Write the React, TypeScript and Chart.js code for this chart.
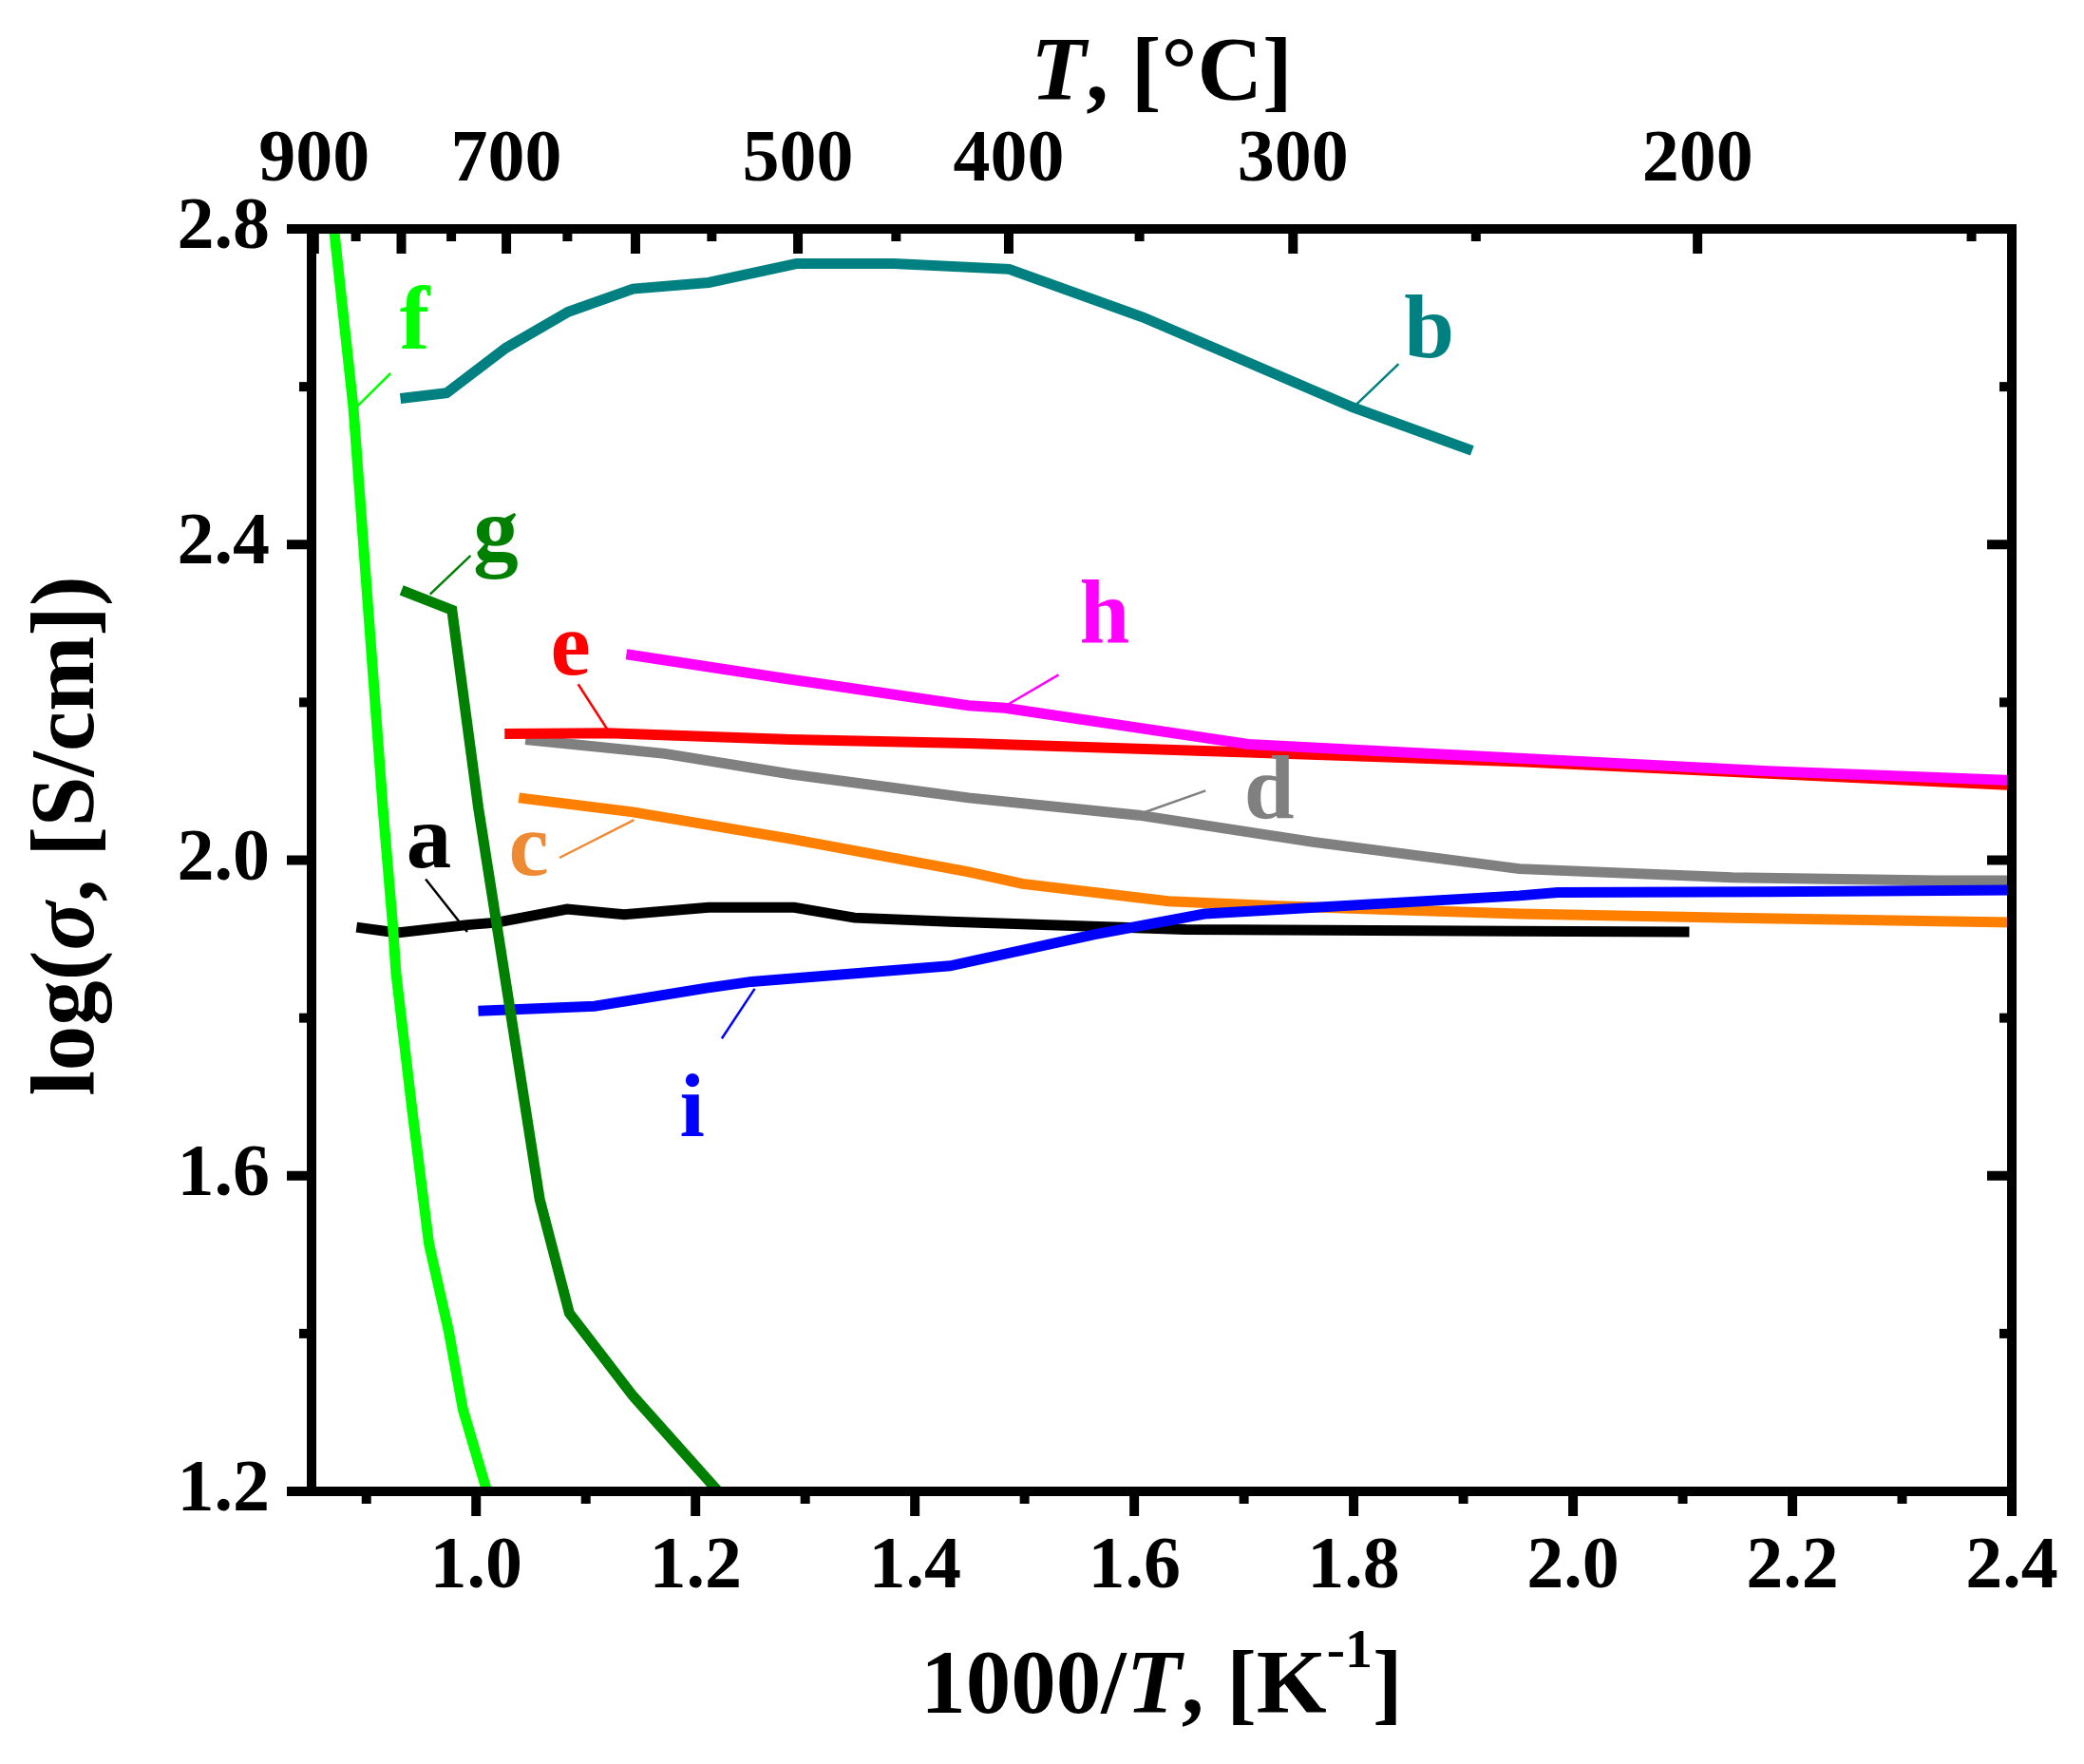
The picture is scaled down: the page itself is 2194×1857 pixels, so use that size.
import React, { useEffect, useRef } from "react";
import { Chart, registerables } from "chart.js";

Chart.register(...registerables);

// ---------- axes ----------
const X_MIN = 0.85;
const X_MAX = 2.4;
const Y_MIN = 1.2;
const Y_MAX = 2.8;
const X_TICKS = [1.0, 1.2, 1.4, 1.6, 1.8, 2.0, 2.2, 2.4];
const X_MINOR = [0.9, 1.1, 1.3, 1.5, 1.7, 1.9, 2.1, 2.3];
const Y_TICKS = [1.2, 1.6, 2.0, 2.4, 2.8];
const Y_MINOR = [1.4, 1.8, 2.2, 2.6];
const TOP_LABEL_TEMPS = [900, 700, 500, 400, 300, 200];
const TOP_MAJOR_TEMPS = [900, 800, 700, 600, 500, 400, 300, 200];
const TOP_MINOR_TEMPS = [850, 750, 650, 550, 450, 350, 250, 150];

// ---------- series (1000/T, log sigma) ----------
const A_X = [0.891, 0.928, 0.992, 1.019, 1.083, 1.135, 1.212, 1.29, 1.345, 1.432, 1.647, 1.946, 2.106];
const A_Y = [1.915, 1.908, 1.918, 1.921, 1.938, 1.931, 1.94, 1.94, 1.927, 1.922, 1.912, 1.91, 1.909];

const B_X = [0.931, 0.973, 1.027, 1.084, 1.143, 1.212, 1.292, 1.381, 1.486, 1.608, 1.799, 1.908];
const B_Y = [2.585, 2.592, 2.649, 2.695, 2.724, 2.732, 2.756, 2.756, 2.749, 2.688, 2.574, 2.519];

const C_X = [1.039, 1.143, 1.287, 1.449, 1.498, 1.631, 1.73, 1.951, 2.145, 2.4];
const C_Y = [2.079, 2.061, 2.027, 1.985, 1.97, 1.948, 1.942, 1.932, 1.927, 1.921];

const D_X = [1.045, 1.172, 1.287, 1.449, 1.604, 1.763, 1.951, 2.145, 2.331, 2.4];
const D_Y = [2.153, 2.135, 2.109, 2.079, 2.057, 2.023, 1.989, 1.978, 1.974, 1.974];

const E_X = [1.026, 1.12, 1.287, 1.449, 1.697, 1.951, 2.4];
const E_Y = [2.16, 2.161, 2.153, 2.148, 2.137, 2.125, 2.095];

const F_X = [0.866, 0.871, 0.888, 0.915, 0.924, 0.927, 0.942, 0.957, 0.975, 0.988, 1.011];
const F_Y = [2.85, 2.793, 2.575, 2.067, 1.918, 1.857, 1.68, 1.514, 1.403, 1.304, 1.195];

const G_X = [0.932, 0.978, 1.002, 1.027, 1.058, 1.085, 1.143, 1.222];
const G_Y = [2.342, 2.317, 2.067, 1.846, 1.57, 1.426, 1.321, 1.198];

const H_X = [1.137, 1.287, 1.449, 1.482, 1.704, 1.951, 2.178, 2.4];
const H_Y = [2.261, 2.229, 2.196, 2.193, 2.147, 2.129, 2.113, 2.101];

const I_X = [1.002, 1.108, 1.21, 1.251, 1.432, 1.564, 1.664, 1.951, 1.986, 2.178, 2.4];
const I_Y = [1.809, 1.815, 1.838, 1.846, 1.866, 1.906, 1.932, 1.955, 1.959, 1.96, 1.962];

// ---------- curve labels ----------
const LABEL_TEXT = ["a", "b", "c", "d", "e", "f", "g", "h", "i"];
const LABEL_X = [0.957, 1.869, 1.048, 1.723, 1.086, 0.944, 1.018, 1.573, 1.197];
const LABEL_Y = [1.991, 2.637, 1.981, 2.053, 2.235, 2.648, 2.38, 2.276, 1.65];
const LEAD_X1 = [0.954, 1.841, 1.076, 1.606, 1.093, 0.89, 0.958, 1.482, 1.224];
const LEAD_Y1 = [1.976, 2.629, 2.003, 2.059, 2.223, 2.573, 2.337, 2.195, 1.774];
const LEAD_X2 = [0.992, 1.799, 1.144, 1.665, 1.12, 0.922, 0.995, 1.531, 1.254];
const LEAD_Y2 = [1.909, 2.573, 2.051, 2.088, 2.165, 2.617, 2.386, 2.235, 1.837];
const LABEL_COLORS = ["#000000", "#008080", "#EE8A33", "#808080", "#FF0000", "#00FF00", "#008000", "#FF00FF", "#0000FF"];

const LINE_COLORS = ["#000000", "#008080", "#FF8000", "#808080", "#FF0000", "#00FF00", "#008000", "#FF00FF", "#0000FF"];
const DRAW_ORDER = [9, 8, 7, 6, 5, 2, 1, 4, 3];
const SERIES_X = [A_X, B_X, C_X, D_X, E_X, F_X, G_X, H_X, I_X];
const SERIES_Y = [A_Y, B_Y, C_Y, D_Y, E_Y, F_Y, G_Y, H_Y, I_Y];

const FONT = '"Liberation Serif", "Times New Roman", serif';

const toK = (t: number) => 1000 / (t + 273.15);

type Run = { t: string; font: string; dy?: number };

function drawRuns(ctx: CanvasRenderingContext2D, runs: Run[], cx: number, by: number) {
  let total = 0;
  const widths = runs.map((r) => {
    ctx.font = r.font;
    const w = ctx.measureText(r.t).width;
    total += w;
    return w;
  });
  let x = cx - total / 2;
  ctx.textAlign = "left";
  ctx.textBaseline = "alphabetic";
  runs.forEach((r, i) => {
    ctx.font = r.font;
    ctx.fillText(r.t, x, by + (r.dy || 0));
    x += widths[i];
  });
}

const decorPlugin = {
  id: "decor",
  afterDatasetsDraw(chart: any) {
    const { ctx, chartArea: ca, scales } = chart;
    const xs = scales.x;
    const ys = scales.y;
    ctx.save();

    // leader lines + letters
    LABEL_TEXT.forEach((txt, i) => {
      ctx.strokeStyle = LABEL_COLORS[i];
      ctx.lineWidth = 2.5;
      ctx.beginPath();
      ctx.moveTo(xs.getPixelForValue(LEAD_X1[i]), ys.getPixelForValue(LEAD_Y1[i]));
      ctx.lineTo(xs.getPixelForValue(LEAD_X2[i]), ys.getPixelForValue(LEAD_Y2[i]));
      ctx.stroke();
      ctx.fillStyle = LABEL_COLORS[i];
      ctx.font = `bold 95px ${FONT}`;
      ctx.textAlign = "center";
      ctx.textBaseline = "alphabetic";
      ctx.fillText(txt, xs.getPixelForValue(LABEL_X[i]), ys.getPixelForValue(LABEL_Y[i]));
    });

    // frame
    ctx.strokeStyle = "#000";
    ctx.lineWidth = 10;
    ctx.lineJoin = "miter";
    ctx.strokeRect(ca.left, ca.top, ca.right - ca.left, ca.bottom - ca.top);

    // ticks
    ctx.lineWidth = 10;
    ctx.lineCap = "butt";
    const seg = (x1: number, y1: number, x2: number, y2: number) => {
      ctx.beginPath();
      ctx.moveTo(x1, y1);
      ctx.lineTo(x2, y2);
      ctx.stroke();
    };
    const MAJ = 26;
    const MIN = 13;
    X_TICKS.forEach((v) => {
      const p = xs.getPixelForValue(v);
      seg(p, ca.bottom, p, ca.bottom + MAJ);
    });
    X_MINOR.forEach((v) => {
      const p = xs.getPixelForValue(v);
      seg(p, ca.bottom, p, ca.bottom + MIN);
    });
    Y_TICKS.forEach((v) => {
      const p = ys.getPixelForValue(v);
      seg(ca.left, p, ca.left - MAJ, p);
      seg(ca.right, p, ca.right - MAJ, p);
    });
    Y_MINOR.forEach((v) => {
      const p = ys.getPixelForValue(v);
      seg(ca.left, p, ca.left - MIN, p);
      seg(ca.right, p, ca.right - MIN, p);
    });
    TOP_MAJOR_TEMPS.forEach((t) => {
      const p = xs.getPixelForValue(toK(t));
      seg(p, ca.top, p, ca.top + MAJ);
    });
    TOP_MINOR_TEMPS.forEach((t) => {
      const p = xs.getPixelForValue(toK(t));
      seg(p, ca.top, p, ca.top + MIN);
    });

    // axis titles
    ctx.fillStyle = "#000";
    const cx = (ca.left + ca.right) / 2;
    const B = `bold 95px ${FONT}`;
    const BI = `italic bold 95px ${FONT}`;
    drawRuns(
      ctx,
      [
        { t: "1000/", font: B },
        { t: "T", font: BI },
        { t: ", [K", font: B },
        { t: "-1", font: `bold 58px ${FONT}`, dy: -48 },
        { t: "]", font: B },
      ],
      cx,
      ca.bottom + 233
    );
    drawRuns(
      ctx,
      [
        { t: "T", font: BI },
        { t: ", [°C]", font: B },
      ],
      cx,
      ca.top - 136
    );
    ctx.save();
    ctx.translate(98, ca.top + 639);
    ctx.rotate(-Math.PI / 2);
    drawRuns(
      ctx,
      [
        { t: "log(", font: B },
        { t: "σ", font: BI },
        { t: ", [S/cm])", font: B },
      ],
      0,
      0
    );
    ctx.restore();

    ctx.restore();
  },
};

export default function App() {
  const canvasRef = useRef<HTMLCanvasElement | null>(null);

  useEffect(() => {
    const canvas = canvasRef.current;
    if (!canvas) return;
    const tickFont = { family: FONT, weight: "bold" as const, size: 78 };
    const hiddenGrid = (len: number) => ({
      display: true,
      drawOnChartArea: false,
      drawTicks: true,
      tickLength: len,
      tickColor: "rgba(0,0,0,0)",
      color: "rgba(0,0,0,0)",
    });
    const datasets = LABEL_TEXT.map((name, i) => ({
      label: name,
      data: SERIES_X[i].map((x, j) => ({ x, y: SERIES_Y[i][j] })),
      borderColor: LINE_COLORS[i],
      backgroundColor: LINE_COLORS[i],
      borderWidth: 11,
      borderCapStyle: "butt" as const,
      borderJoinStyle: "miter" as const,
      pointRadius: 0,
      tension: 0,
      fill: false,
      clip: 0,
      order: DRAW_ORDER[i],
    }));

    const chart = new Chart(canvas, {
      type: "line",
      data: { datasets },
      options: {
        animation: false,
        responsive: false,
        devicePixelRatio: 1,
        layout: { padding: { left: 0, right: 76, top: 0, bottom: 0 } },
        plugins: { legend: { display: false }, tooltip: { enabled: false }, title: { display: false } },
        scales: {
          x: {
            type: "linear",
            position: "bottom",
            min: X_MIN,
            max: X_MAX,
            grid: hiddenGrid(34),
            border: { display: false },
            afterBuildTicks: (s: any) => {
              s.ticks = X_TICKS.map((v) => ({ value: v }));
            },
            afterFit: (s: any) => {
              s.height = 287;
            },
            ticks: {
              autoSkip: false,
              maxRotation: 0,
              minRotation: 0,
              padding: 0,
              color: "#000",
              font: tickFont,
              callback: (v: any) => Number(v).toFixed(1),
            },
          },
          x2: {
            type: "linear",
            position: "top",
            min: X_MIN,
            max: X_MAX,
            grid: hiddenGrid(24),
            border: { display: false },
            afterBuildTicks: (s: any) => {
              s.ticks = TOP_LABEL_TEMPS.map((t) => ({ value: toK(t) }));
            },
            afterFit: (s: any) => {
              s.height = 241;
            },
            ticks: {
              autoSkip: false,
              maxRotation: 0,
              minRotation: 0,
              padding: 0,
              color: "#000",
              font: tickFont,
              callback: (v: any) => String(Math.round(1000 / Number(v) - 273.15)),
            },
          },
          y: {
            type: "linear",
            position: "left",
            min: Y_MIN,
            max: Y_MAX,
            grid: hiddenGrid(44),
            border: { display: false },
            afterBuildTicks: (s: any) => {
              s.ticks = Y_TICKS.map((v) => ({ value: v }));
            },
            afterFit: (s: any) => {
              s.width = 328;
            },
            ticks: {
              autoSkip: false,
              padding: 0,
              color: "#000",
              font: tickFont,
              callback: (v: any) => Number(v).toFixed(1),
            },
          },
        },
      },
      plugins: [decorPlugin],
    });
    return () => chart.destroy();
  }, []);

  return (
    <div style={{ position: "absolute", left: 0, top: 0, width: 2194, height: 1857, background: "#fff" }}>
      <canvas ref={canvasRef} width={2194} height={1857} style={{ width: 2194, height: 1857, display: "block" }} />
    </div>
  );
}
